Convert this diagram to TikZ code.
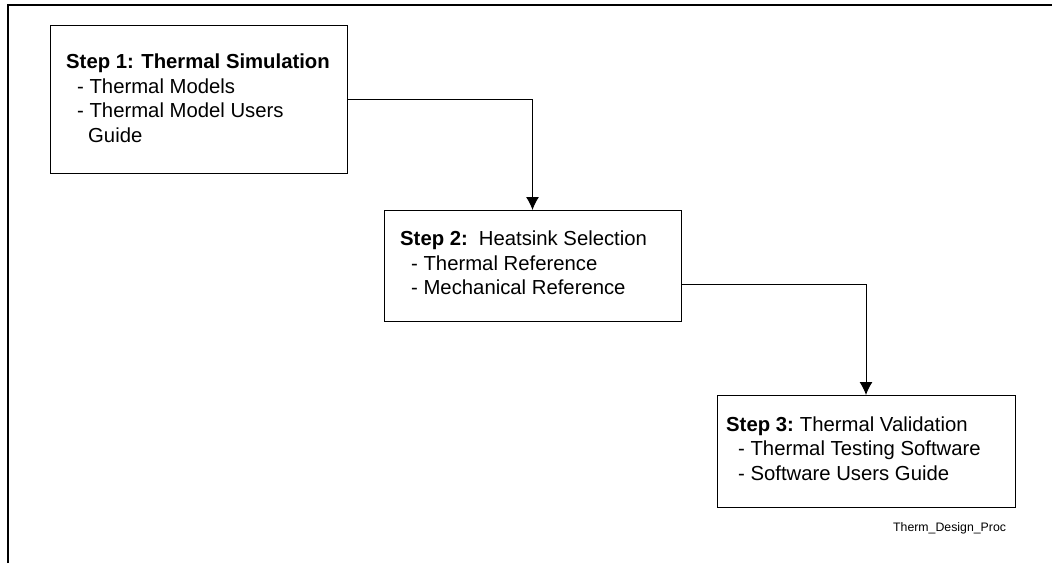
\documentclass[tikz,border=0pt]{standalone}
\usepackage{fontspec}
\setmainfont{Liberation Sans}
\usetikzlibrary{arrows.meta}
\begin{document}
\begin{tikzpicture}[x=1pt,y=-1pt,
 frameline/.style={line width=2pt},
 boxnode/.style={draw=black,line width=1.1pt,anchor=north west,inner sep=0pt},
 conn/.style={line width=1pt,-{Latex[length=13pt,width=13pt]}},
 lab/.style={anchor=base west,inner sep=0pt,font=\fontsize{20.3}{24}\selectfont}]
\useasboundingbox (0,0) rectangle (1052,563);
\draw[frameline] (8,563) -- (8,5) -- (1052,5);
\node[boxnode,minimum width=297pt,minimum height=148pt] (s1) at (50,25) {};
\node[boxnode,minimum width=297pt,minimum height=111pt] (s2) at (384,210) {};
\node[boxnode,minimum width=298pt,minimum height=112pt] (s3) at (717,395) {};
\coordinate (c1) at (532.5,99);
\coordinate (c2) at (866,284);
\draw[conn] (s1.east |- c1) -- (c1) -- (s2.north -| c1);
\draw[conn] (s2.east |- c2) -- (c2) -- (s3.north -| c2);
\node[lab] (t11) at (66,68) {\textbf{Step 1: Thermal Simulation}};
\node[lab] (t12) at (77,93) {- Thermal Models};
\node[lab] (t13) at (77,117.5) {- Thermal Model Users};
\node[lab] (t14) at (88,142.5) {Guide};
\node[lab] (t21) at (400,245.5) {\textbf{Step 2:}\hspace{11pt}Heatsink Selection};
\node[lab] (t22) at (411,270) {- Thermal Reference};
\node[lab] (t23) at (411,294.5) {- Mechanical Reference};
\node[lab] (t31) at (726,431) {\textbf{Step 3:}\hspace{6pt}Thermal Validation};
\node[lab] (t32) at (738,455) {- Thermal Testing Software};
\node[lab] (t33) at (738,480) {- Software Users Guide};
\node[anchor=base west,inner sep=0pt,font=\fontsize{12.3}{14}\selectfont] (t4) at (893,531) {Therm\_Design\_Proc};
\end{tikzpicture}
\end{document}
